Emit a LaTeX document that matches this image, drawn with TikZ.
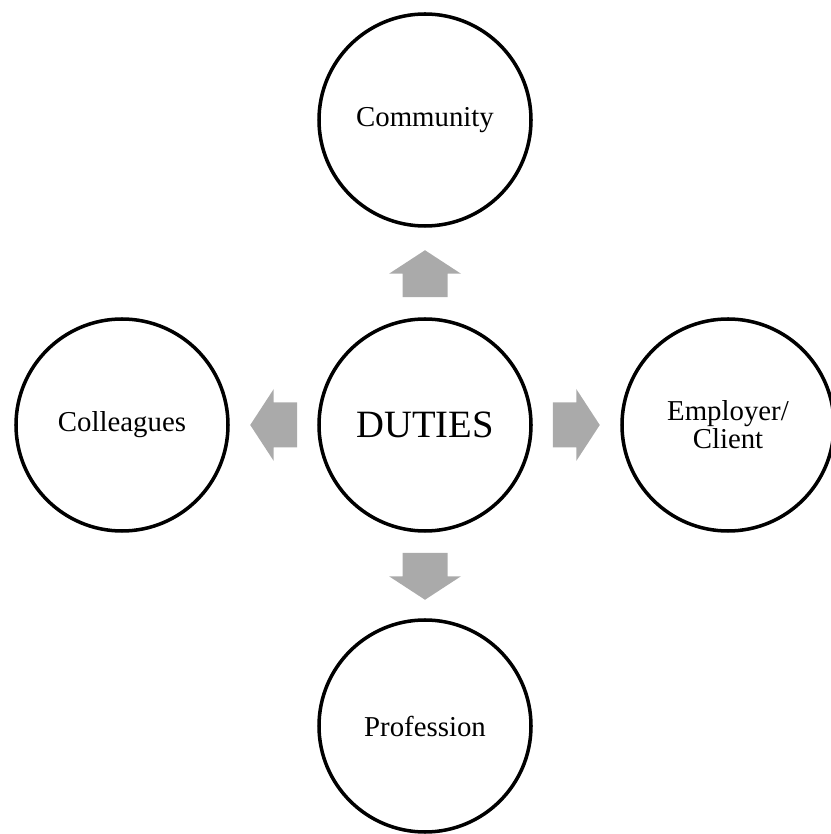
\documentclass[tikz,border=0pt]{standalone}
\usepackage{fontspec}
\setmainfont{Liberation Serif}
\usetikzlibrary{positioning}
\definecolor{arrowgray}{RGB}{170,170,170}
\tikzset{
  duty/.style={draw, circle, line width=1pt, minimum size=2.12cm, inner sep=0pt,
    align=center, font=\fontsize{8.2}{8}\selectfont},
  bigarrow/.pic={\fill[arrowgray] (0,-0.225) -- (0.235,-0.225) -- (0.235,-0.36) -- (0.47,0)
    -- (0.235,0.36) -- (0.235,0.225) -- (0,0.225) -- cycle;}
}

\begin{document}
\begin{tikzpicture}
      \useasboundingbox (0,0) rectangle (8.30,8.34);

      % the centre and the four circles round it
      \node[duty, font=\fontsize{11}{13}\selectfont] (duties) at (4.25,4.09) {DUTIES};
      \node[duty, on grid, above=3.05cm of duties] (community) {Community};
      \node[duty, on grid, below=3.01cm of duties] (profession) {Profession};
      \node[duty, on grid, left=3.03cm of duties] (colleagues) {Colleagues};
      \node[duty, on grid, right=3.03cm of duties] (employer) {Employer/\\Client};

      % block arrows
      \coordinate[above=0.2cm of duties.north] (tocommunity);
      \coordinate[below=0.2cm of duties.south] (toprofession);
      \coordinate[left=0.2cm of duties.west] (tocolleagues);
      \coordinate[right=0.2cm of duties.east] (toemployer);
      \pic[rotate=90] at (tocommunity) {bigarrow};
      \pic[rotate=-90] at (toprofession) {bigarrow};
      \pic[rotate=180] at (tocolleagues) {bigarrow};
      \pic at (toemployer) {bigarrow};
    \end{tikzpicture}
\end{document}
